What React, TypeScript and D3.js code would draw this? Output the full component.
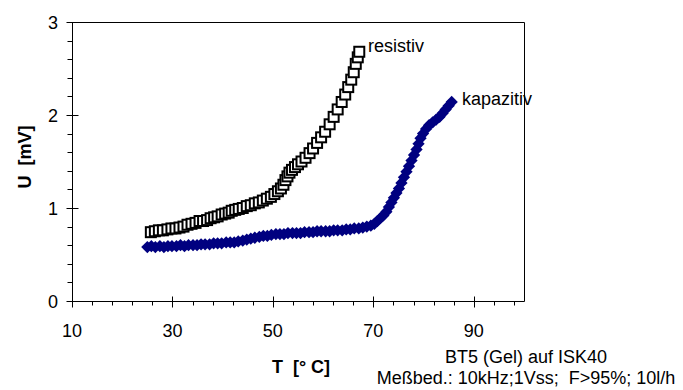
import React from "react";
import * as d3 from "d3";

// Temperature [°C] and voltage [mV] readings, resistive sensor
const resistivT = [
  25.7, 26.5, 27.3, 28.1, 29.0, 29.8, 30.6, 31.4, 32.2, 33.0, 33.8, 34.6, 35.4, 36.1, 36.9,
  37.6, 38.3, 39.0, 39.8, 40.5, 41.2, 41.8, 42.5, 43.2, 44.0, 44.8, 45.6, 46.4, 47.2, 48.0,
  48.8, 49.6, 50.3, 51.0, 51.6, 52.1, 52.5, 52.9, 53.3, 53.8, 54.4, 55.0, 55.7, 56.5, 57.3,
  58.0, 58.8, 59.6, 60.4, 61.3, 62.1, 62.9, 63.7, 64.4, 65.0, 65.6, 66.1, 66.5, 66.9, 67.2,
];
const resistivU = [
  0.74, 0.75, 0.76, 0.76, 0.77, 0.78, 0.78, 0.79, 0.8, 0.82, 0.83, 0.84, 0.86, 0.86, 0.87,
  0.89, 0.9, 0.91, 0.93, 0.94, 0.95, 0.97, 0.98, 0.99, 1.0, 1.02, 1.03, 1.05, 1.06, 1.08,
  1.1, 1.12, 1.15, 1.18, 1.21, 1.25, 1.3, 1.34, 1.38, 1.41, 1.44, 1.47, 1.5, 1.54, 1.59,
  1.64, 1.7, 1.76, 1.82, 1.9, 1.98, 2.06, 2.14, 2.22, 2.3, 2.38, 2.46, 2.55, 2.62, 2.68,
];

// Temperature [°C] and voltage [mV] readings, capacitive sensor
const kapazitivT = [
  25.0, 25.8, 26.6, 27.5, 28.3, 29.1, 29.9, 30.8, 31.6, 32.4, 33.2, 34.1, 34.9, 35.7, 36.5,
  37.4, 38.2, 39.0, 39.8, 40.7, 41.5, 42.3, 43.1, 44.0, 44.8, 45.6, 46.4, 47.3, 48.1, 48.9,
  49.7, 50.6, 51.4, 52.2, 53.0, 53.9, 54.7, 55.5, 56.3, 57.2, 58.0, 58.8, 59.6, 60.5, 61.3,
  62.1, 62.9, 63.8, 64.6, 65.4, 66.2, 67.1, 67.9, 68.7, 69.5, 70.2, 70.8, 71.4, 72.0, 72.6,
  73.1, 73.6, 74.1, 74.6, 75.1, 75.6, 76.1, 76.6, 77.1, 77.6, 78.1, 78.6, 79.0, 79.4, 79.9,
  80.5, 81.1, 81.8, 82.5, 83.2, 83.8, 84.4, 85.0, 85.6,
];
const kapazitivU = [
  0.58, 0.59, 0.58, 0.59, 0.58, 0.59, 0.59, 0.59, 0.6, 0.59, 0.6, 0.6, 0.6, 0.61, 0.61,
  0.61, 0.62, 0.62, 0.62, 0.63, 0.63, 0.63, 0.64, 0.65, 0.66, 0.67, 0.68, 0.69, 0.7, 0.7,
  0.71, 0.72, 0.72, 0.72, 0.73, 0.73, 0.73, 0.73, 0.74, 0.74, 0.74, 0.75, 0.75, 0.75, 0.75,
  0.76, 0.76, 0.76, 0.77, 0.77, 0.78, 0.78, 0.79, 0.8, 0.81, 0.83, 0.86, 0.89, 0.92, 0.96,
  1.01, 1.06, 1.11, 1.16, 1.21, 1.27, 1.33, 1.39, 1.45, 1.51, 1.57, 1.63, 1.69, 1.75, 1.8,
  1.85, 1.89, 1.92, 1.95, 1.98, 2.02, 2.06, 2.1, 2.14,
];

const xMajorTicks = [10, 30, 50, 70, 90];
const yMajorTicks = [0, 1, 2, 3];

const FONT = "'Liberation Sans', Arial, Helvetica, sans-serif";

export default function App() {
  const width = 683;
  const height = 390;

  const x = d3.scaleLinear().domain([10, 100]).range([72, 524]);
  const y = d3.scaleLinear().domain([0, 3]).range([301, 22]);

  const xMinor = d3.range(10, 100.01, 4).filter((v) => !xMajorTicks.includes(v));
  const yMinor = d3.range(0, 3.001, 0.2).map((v) => +v.toFixed(1)).filter((v) => !yMajorTicks.includes(v));

  const res = resistivT.map((t, i) => [t, resistivU[i]] as [number, number]);
  const kap = kapazitivT.map((t, i) => [t, kapazitivU[i]] as [number, number]);

  const diamond = d3.symbol().type(d3.symbolDiamond2).size(96)();

  const x0 = Math.round(x(10)) + 0.5;
  const x1 = Math.round(x(100)) + 0.5;
  const y0 = Math.round(y(0)) + 0.5;
  const y1 = Math.round(y(3)) + 0.5;

  return (
    <svg
      width={width}
      height={height}
      style={{ position: "absolute", left: 0, top: 0, background: "#fff" }}
      fontFamily={FONT}
    >
      <rect width={width} height={height} fill="#fff" />

      {/* plot frame */}
      <path d={`M${x0},${y1}H${x1}V${y0}H${x0}Z`} fill="none" stroke="#000" strokeWidth={1} />

      {/* x axis ticks */}
      {xMajorTicks.map((t) => {
        const px = Math.round(x(t)) + 0.5;
        return <line key={`xM${t}`} x1={px} x2={px} y1={y0 - 5} y2={y0 + 6} stroke="#000" />;
      })}
      {xMinor.map((t) => {
        const px = Math.round(x(t)) + 0.5;
        return <line key={`xm${t}`} x1={px} x2={px} y1={y0} y2={y0 + 4} stroke="#000" />;
      })}
      {xMajorTicks.map((t) => (
        <text key={`xl${t}`} x={x(t)} y={337} fontSize={18} textAnchor="middle" fill="#000">
          {t}
        </text>
      ))}

      {/* y axis ticks */}
      {yMajorTicks.map((t) => {
        const py = Math.round(y(t)) + 0.5;
        return <line key={`yM${t}`} x1={x0 - 6} x2={x0 + 6} y1={py} y2={py} stroke="#000" />;
      })}
      {yMinor.map((t) => {
        const py = Math.round(y(t)) + 0.5;
        return <line key={`ym${t}`} x1={x0 - 5} x2={x0} y1={py} y2={py} stroke="#000" />;
      })}
      {yMajorTicks.map((t) => (
        <text key={`yl${t}`} x={58} y={y(t) + 6.5} fontSize={18} textAnchor="end" fill="#000">
          {t}
        </text>
      ))}

      {/* axis titles */}
      <text
        transform="translate(31,157) rotate(-90)"
        fontSize={18}
        fontWeight="bold"
        textAnchor="middle"
        fill="#000"
        style={{ whiteSpace: "pre" }}
      >
        {"U  [mV]"}
      </text>
      <text x={301} y={373} fontSize={18} fontWeight="bold" textAnchor="middle" fill="#000" style={{ whiteSpace: "pre" }}>
        {"T  [° C]"}
      </text>

      {/* capacitive series */}
      <g fill="#000080">
        {kap.map(([t, u], i) => (
          <path key={`k${i}`} d={diamond!} transform={`translate(${x(t)},${y(u)})`} />
        ))}
      </g>

      {/* resistive series */}
      <g fill="#fff" stroke="#000" strokeWidth={2}>
        {res.map(([t, u], i) => (
          <rect key={`r${i}`} x={x(t) - 5} y={y(u) - 5} width={10} height={10} />
        ))}
      </g>

      {/* series labels */}
      <text x={368} y={52} fontSize={18} fill="#000">
        resistiv
      </text>
      <text x={462} y={105} fontSize={18} fill="#000">
        kapazitiv
      </text>

      {/* measurement notes */}
      <text x={526} y={363} fontSize={18} textAnchor="middle" fill="#000">
        BT5 (Gel) auf ISK40
      </text>
      <text x={526} y={384} fontSize={18} textAnchor="middle" fill="#000" style={{ whiteSpace: "pre" }}>
        {"Meßbed.: 10kHz;1Vss;  F>95%; 10l/h"}
      </text>
    </svg>
  );
}
